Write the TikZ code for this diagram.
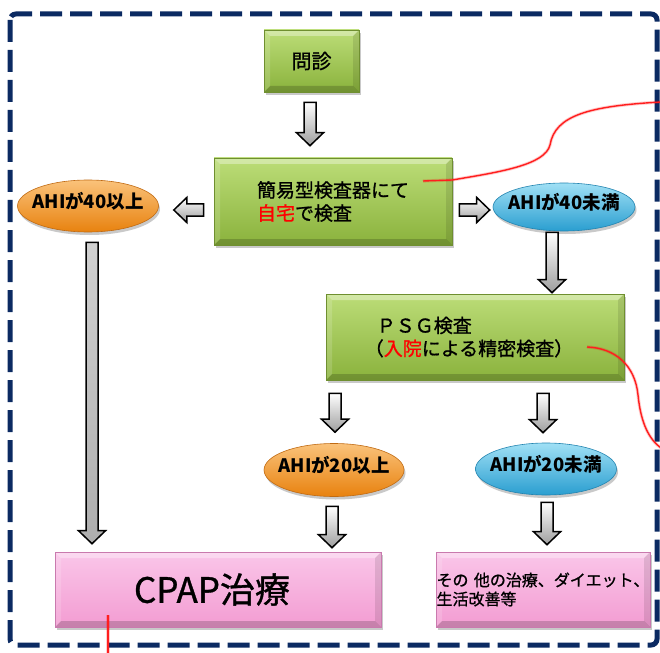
\documentclass[tikz,border=0pt]{standalone}
\usepackage{fontspec}
\setmainfont{Noto Sans CJK JP}[FakeBold=1.0]
\newfontfamily\ovfont{Noto Sans CJK JP}
\usetikzlibrary{shapes.geometric,shadows,calc}
\definecolor{navy}{HTML}{0B2A62}
\definecolor{gtop}{HTML}{BCDD78}
\definecolor{gbot}{HTML}{8AB23C}
\definecolor{gedge}{HTML}{6F8F30}
\definecolor{otop}{HTML}{FAC27A}
\definecolor{obot}{HTML}{E8820F}
\definecolor{oedge}{HTML}{C06A12}
\definecolor{btop}{HTML}{A0E0F5}
\definecolor{bbot}{HTML}{2A9ED0}
\definecolor{bedge}{HTML}{2384B0}
\definecolor{ptop}{HTML}{FAC6E9}
\definecolor{pbot}{HTML}{F39CD2}
\definecolor{pedge}{HTML}{C97AAE}
\definecolor{redline}{HTML}{FF1E1E}
\newcommand\darrow[3][]{\draw[blockarrow,#1] let \p1=(#2),\p2=(#3) in
  (\x1-6pt,\y1) -- (\x1+6pt,\y1) -- (\x1+6pt,\y2+13pt) -- (\x1+13.5pt,\y2+13pt)
  -- (\x1,\y2) -- (\x1-13.5pt,\y2+13pt) -- (\x1-6pt,\y2+13pt) -- cycle;}
\newcommand\larrow[3][]{\draw[blockarrow,#1] let \p1=(#2),\p2=(#3) in
  (\x1,\y1+6pt) -- (\x1,\y1-6pt) -- (\x2+13pt,\y1-6pt) -- (\x2+13pt,\y1-12.5pt)
  -- (\x2,\y1) -- (\x2+13pt,\y1+12.5pt) -- (\x2+13pt,\y1+6pt) -- cycle;}
\newcommand\rarrow[3][]{\draw[blockarrow,#1] let \p1=(#2),\p2=(#3) in
  (\x1,\y1+6pt) -- (\x1,\y1-6pt) -- (\x2-13pt,\y1-6pt) -- (\x2-13pt,\y1-12.5pt)
  -- (\x2,\y1) -- (\x2-13pt,\y1+12.5pt) -- (\x2-13pt,\y1+6pt) -- cycle;}
\tikzset{
  bevel/.style={path picture={
    \fill[white,opacity=.35] (path picture bounding box.north west) -- (path picture bounding box.north east) -- ++(-6,6) -- ([shift={(6,6)}]path picture bounding box.north west) -- cycle;
    \fill[black,opacity=.18] (path picture bounding box.south west) -- (path picture bounding box.south east) -- ++(-6,-6) -- ([shift={(6,-6)}]path picture bounding box.south west) -- cycle;
    \fill[white,opacity=.15] (path picture bounding box.north west) -- ([shift={(6,6)}]path picture bounding box.north west) -- ([shift={(6,-6)}]path picture bounding box.south west) -- (path picture bounding box.south west) -- cycle;
    \fill[black,opacity=.10] (path picture bounding box.north east) -- ([shift={(-6,6)}]path picture bounding box.north east) -- ([shift={(-6,-6)}]path picture bounding box.south east) -- (path picture bounding box.south east) -- cycle;
  }},
  shadowed/.style={drop shadow={shadow xshift=1.5pt, shadow yshift=-3pt, opacity=.35, fill=black!60}},
  greenbox/.style={rectangle, draw=gedge, line width=.6pt, top color=gtop, bottom color=gbot, bevel, shadowed, inner sep=0pt},
  pinkbox/.style={rectangle, draw=pedge, line width=.6pt, top color=ptop, bottom color=pbot, bevel, shadowed, inner sep=0pt},
  ovaltext/.style={inner sep=0pt, font=\ovfont\bfseries\fontsize{18.5}{21}\selectfont},
  orangeoval/.style={ellipse, draw=oedge, line width=.6pt, top color=otop, bottom color=obot, shadowed, ovaltext},
  blueoval/.style={ellipse, draw=bedge, line width=.6pt, top color=btop, bottom color=bbot, shadowed, ovaltext},
  blockarrow/.style={draw=black, line width=1.5pt, line join=miter, top color=white, bottom color=black!38},
  longshaft/.style={top color=black!18, bottom color=black!32},
  redl/.style={draw=redline, line width=1.4pt, preaction={draw=red, opacity=.2, line width=3.2pt}},
}
\newcommand\ovtext[1]{\raisebox{-2pt}[0pt][0pt]{\makebox[0pt]{#1}}}
\begin{document}
\begin{tikzpicture}[x=1pt,y=-1pt]
\useasboundingbox (0,0) rectangle (660,652);
\fill[white] (0,0) rectangle (660,652);
% frame
\draw[navy, line width=5pt, dash pattern=on 22pt off 8pt, rounded corners=6pt] (10,14) rectangle (657,645);
% nodes
\node[greenbox, minimum width=95pt, minimum height=62pt, font=\fontsize{20}{24}\selectfont] (q) at (311.5,61) {問診};
\node[greenbox, minimum width=238pt, minimum height=87pt, align=left, font=\fontsize{19}{23}\selectfont] (k) at (333,201.5)
  {簡易型検査器にて\\\textcolor{red}{自宅}で検査};
\node[orangeoval, minimum width=141pt, minimum height=52pt] (o1) at (88,206) {\ovtext{AHIが40以上}};
\node[blueoval, minimum width=142pt, minimum height=48pt] (b1) at (564,207) {\ovtext{AHIが40未満}};
\node[greenbox, minimum width=298pt, minimum height=86pt, align=left, font=\fontsize{19}{23}\selectfont] (p) at (475,337)
  {ＰＳＧ検査\\\hspace*{-12pt}（\textcolor{red}{入院}による精密検査）};
\node[orangeoval, minimum width=140pt, minimum height=53pt] (o2) at (334,470) {\ovtext{AHIが20以上}};
\node[blueoval, minimum width=141pt, minimum height=52pt] (b2) at (546,469) {\ovtext{AHIが20未満}};
\node[pinkbox, minimum width=326pt, minimum height=75pt, font=\fontsize{35}{38}\selectfont] (c) at (218,589.5) {\hspace*{-12pt}CPAP治療};
\node[pinkbox, minimum width=214pt, minimum height=75pt, text width=213pt, align=left, inner xsep=0.5pt, font=\fontsize{16}{19}\selectfont] (t) at (543,589.5)
  {その~他の治療、ダイエット、\\生活改善等};
% connectors
\coordinate (a1s) at ($(q.south)+(-1.5,10)$);
\coordinate (a1e) at ($(k.north)+(0,-12)$);
\darrow{a1s}{a1e}
\coordinate (a2s) at ($(k.west)+(-10,8.5)$);
\coordinate (a2e) at ($(o1.east)+(15,3)$);
\larrow{a2s}{a2e}
\coordinate (a3s) at ($(k.east)+(7,8.5)$);
\coordinate (a3e) at ($(b1.west)+(-3,3)$);
\rarrow{a3s}{a3e}
\coordinate (a4s) at ($(b1.south)+(-12,1)$);
\coordinate (a4e) at ($(p.north)+(0,-1)$);
\darrow{a4s}{a4e}
\coordinate (a5s) at ($(o1.south)+(4,10)$);
\coordinate (a5e) at ($(c.north)+(0,-8)$);
\darrow[longshaft]{a5s}{a5e}
\coordinate (a6s) at ($(p.south)+(-140,13)$);
\coordinate (a6e) at ($(o2.north)+(0,-11)$);
\darrow{a6s}{a6e}
\coordinate (a7s) at ($(p.south)+(68,13)$);
\coordinate (a7e) at ($(b2.north)+(0,-10)$);
\darrow{a7s}{a7e}
\coordinate (a8s) at ($(o2.south)+(-2,9.5)$);
\coordinate (a8e) at ($(c.north)+(0,-4)$);
\darrow{a8s}{a8e}
\coordinate (a9s) at ($(b2.south)+(1,7)$);
\coordinate (a9e) at ($(t.north)+(0,-7)$);
\darrow{a9s}{a9e}
% red lines
\coordinate (r1s) at (423,181);
\coordinate (r1e) at (661,102);
\draw[redl] (r1s) -- (452,180) .. controls (500,172) and (545,165) .. (550,145) .. controls (555,115) and (590,106) .. (r1e);
\coordinate (r2s) at (587,347);
\coordinate (r2e) at (661,448);
\draw[redl] (r2s) .. controls (615,348) and (635,365) .. (638,395) .. controls (641,425) and (650,440) .. (r2e);
\coordinate (r3s) at (108,615);
\coordinate (r3e) at (108,653);
\draw[redl] (r3s) -- (r3e);
\end{tikzpicture}
\end{document}
